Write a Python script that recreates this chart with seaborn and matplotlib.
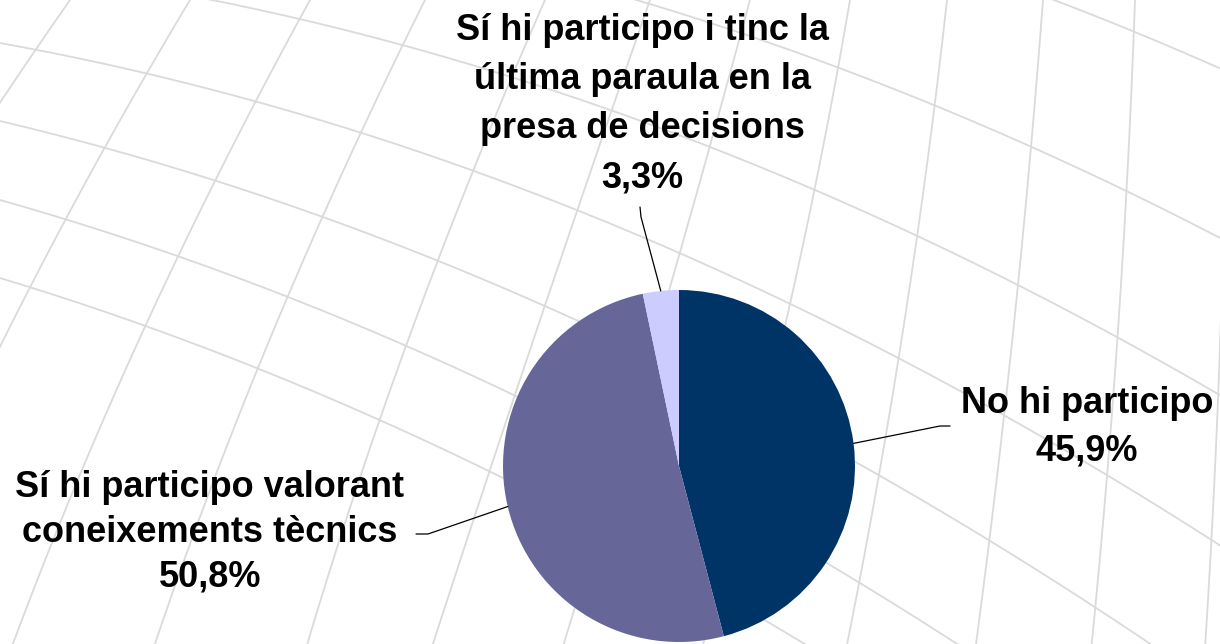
import numpy as np
import matplotlib
matplotlib.use("Agg")
import matplotlib.pyplot as plt
import seaborn as sns

# Survey answers and their shares (%)
categories = [
    "No hi participo",
    "Sí hi participo valorant\nconeixements tècnics",
    "Sí hi participo i tinc la\núltima paraula en la\npresa de decisions",
]
shares = [45.9, 50.8, 3.3]
slice_colors = ["#003366", "#666699", "#CCCCFF"]

sns.set_theme(style="white")
plt.rcParams["font.family"] = ["Liberation Sans", "DejaVu Sans"]

W, H = 1220, 644
fig = plt.figure(figsize=(W / 100, H / 100), dpi=100)
fig.patch.set_facecolor("white")
ax = fig.add_axes([0, 0, 1, 1])


def Y(y_down):
    """Convert a top-down pixel row into the axes' bottom-up units."""
    return H - y_down


# --- decorative warped grid in the background ---------------------------
grid_kw = dict(color="#dadada", lw=1.3, zorder=0, solid_capstyle="round")
xs = np.linspace(-50, W + 50, 300)
row_start = [-190, -112, -34, 43, 121, 200, 278]
row_tilt = [-0.02, 0.055, 0.12, 0.18, 0.236, 0.282, 0.302]
for y0, a in zip(row_start, row_tilt):
    ys = y0 + a * xs + 0.00019 * xs ** 2
    ax.plot(xs, Y(ys), **grid_kw)

yv = np.linspace(-50, H + 50, 300)
col_start = [70, 190, 310, 425, 545, 650, 750, 850, 947, 1043, 1135, 1226]
col_lean = [-0.7, -0.6, -0.55, -0.5, -0.44, -0.35, -0.27, -0.17, -0.11, -0.075, -0.035, 0.0]
col_bend = [0.000175, 0.00015, 0.0001375, 0.000125, 0.00011, 0.00002,
            -0.00003, -0.00009, -0.00007, -0.000045, -0.00005, -0.00005]
for x0, s, k in zip(col_start, col_lean, col_bend):
    xv = x0 + s * yv + k * yv ** 2
    ax.plot(xv, Y(yv), **grid_kw)

# --- pie ----------------------------------------------------------------
cx, cy, rad = 679, 466, 176
wedges, _ = ax.pie(
    shares,
    colors=slice_colors,
    startangle=90,
    counterclock=False,
    center=(cx, Y(cy)),
    radius=rad,
    wedgeprops=dict(linewidth=0),
)
for w in wedges:
    w.set_zorder(2)

ax.set_xlim(0, W)
ax.set_ylim(0, H)
ax.set_aspect("auto")
ax.axis("off")

# --- labels with leader lines --------------------------------------------
# (text centre x, first baseline y, line step, elbow point, end point)
label_layout = [
    (1087, 413, 47, (940, 426), (950, 426)),
    (210, 497, 45, (428, 534), (416, 534)),
    (642, 40, 49, (641, 217), (640, 207)),
]

for w, name, val, (tx, ty, step, elbow, end) in zip(wedges, categories, shares, label_layout):
    mid = np.deg2rad((w.theta1 + w.theta2) / 2)
    px = cx + rad * np.cos(mid)
    py = Y(cy) + rad * np.sin(mid)
    ax.plot([px, elbow[0], end[0]], [py, Y(elbow[1]), Y(end[1])],
            color="black", lw=0.9, zorder=3)
    pct = f"{val:.1f}%".replace(".", ",")
    for i, line in enumerate(name.split("\n") + [pct]):
        ax.text(tx, Y(ty + i * step), line, ha="center", va="baseline",
                fontsize=26, fontweight="bold", color="black", zorder=4)

fig.savefig("out.png", dpi=100, facecolor="white")
